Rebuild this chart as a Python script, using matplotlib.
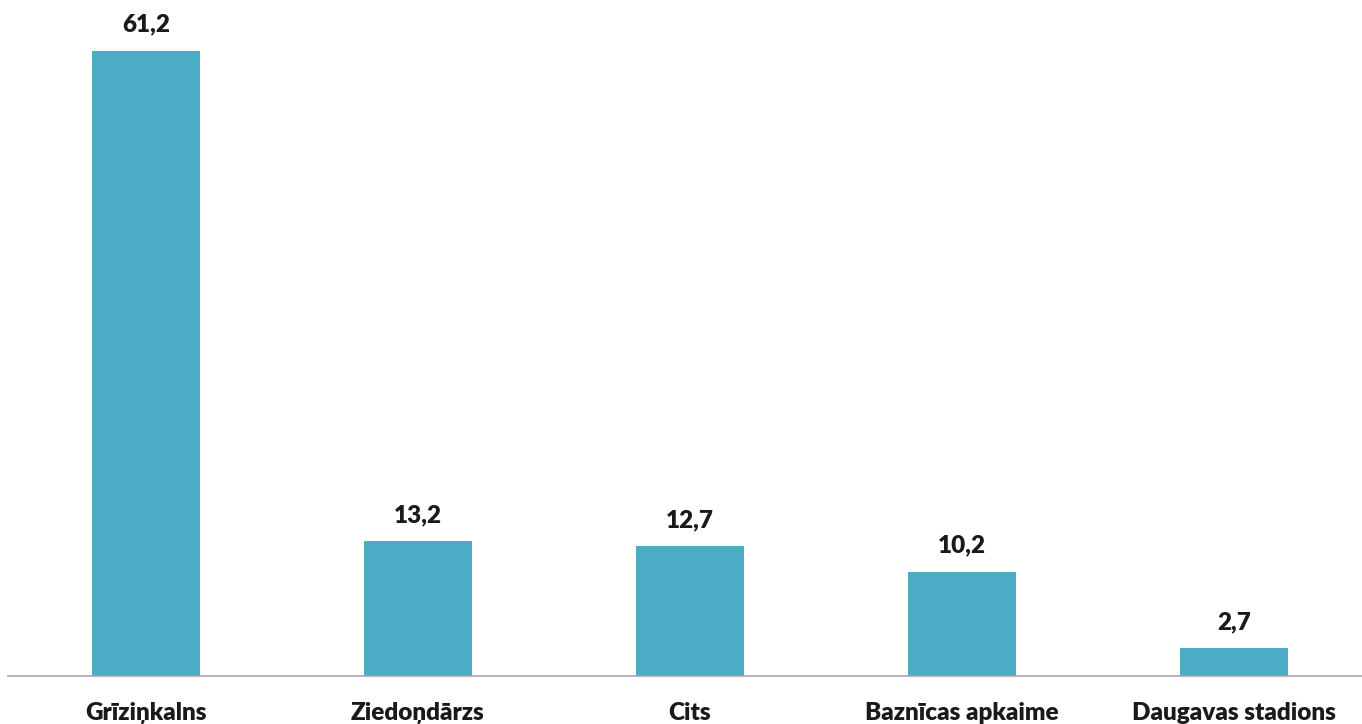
import matplotlib.pyplot as plt

categories = ["Grīziņkalns", "Ziedoņdārzs", "Cits", "Baznīcas apkaime", "Daugavas stadions"]
values = [61.2, 13.2, 12.7, 10.2, 2.7]
value_labels = ["61,2", "13,2", "12,7", "10,2", "2,7"]

plt.rcParams['font.family'] = ['Lato', 'DejaVu Sans']

fig = plt.figure(figsize=(13.62, 7.24), dpi=100)
ax = fig.add_axes([8 / 1362, 48 / 724, 1354 / 1362, 676 / 724])

pos = list(range(len(categories)))
ax.bar(pos, values, width=0.397, color="#4bacc6")

# value labels above the bars
for x, v, lab in zip(pos, values, value_labels):
    ax.annotate(lab, (x, v), xytext=(0, 11), textcoords="offset points",
                ha="center", va="bottom", fontsize=17.5, fontweight="heavy", color="#1a1a1a")

ax.set_xlim(-0.507, 4.47)
ax.set_ylim(0, 66.2)
ax.set_xticks(pos)
ax.set_xticklabels(categories, fontsize=17.5, fontweight="heavy", color="#1a1a1a")
ax.tick_params(axis="x", length=0, pad=19)
ax.set_yticks([])
for s in ["top", "right", "left"]:
    ax.spines[s].set_visible(False)
ax.spines["bottom"].set_color("#a6a6a6")
ax.spines["bottom"].set_linewidth(1.2)

fig.savefig("out.png", dpi=100)
